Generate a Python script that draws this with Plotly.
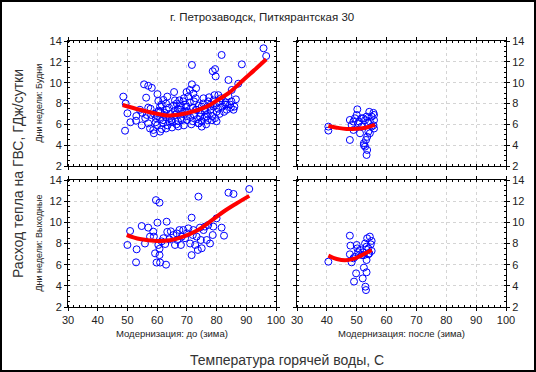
import plotly.graph_objects as go

# ---- data: top-left (до, будни)
tl_x = [48.6,49.2,50,49.4,52.9,54.2,54.8,55.6,56.3,57,58.2,56.5,57,57.6,57.8,58.7,58.9,59.6,60.1,60.4,60.4,61,61.5,62.1,62.3,63.2,63.4,64.3,64.9,65.7,66.6,66.6,67.1,67.7,68.3,68.8,69.4,69.9,69.9,70.5,71.1,71.7,71.7,72.2,72.4,73.1,73.3,73.9,74.4,75,75.6,76.1,76.7,77.2,77.8,78.4,78.7,79.5,79.7,79.3,80,80.6,81.1,81.7,82.9,83.4,84,84.5,85.1,85.7,87.3,88.5,95.8,96.7,84.8,80,
        59,59.5,60,60.5,61,61.5,62,62.5,63,63.5,64,64.5,65,65.5,66,66.5,67,67.5,68,68.5,69,69.5,70,70.5,71,71.5,72,72.5,73,73.5,74,74.5,75,75.5,76,76.5,77,77.5,78,78.5,79,79.5,80,80.5,81,81.5,82,82.5,83,83.5,84,85,86,86.5,62,64,66,68,70,72,74,76,78,60,58,57,56,55,53,51,69,71,73,75,77,79,66,63,61,67,65,63,61]
tl_y = [8.66,5.39,7.06,8.0,6.35,7.4,5.9,9.84,8.56,9.7,9.5,6.9,6.1,5.6,7.5,5.46,5.14,6.6,8.9,8.24,7.2,7.7,5.55,8.34,6.9,7.4,8.66,6.6,6.4,9.1,8.0,7.06,5.8,7.4,6.4,8.2,7.2,7.7,9.1,8.66,6.7,11.7,9.84,8.96,8.2,9.46,7.4,6.1,6.74,5.78,8.5,7.5,6.74,8.2,7.7,6.4,11.1,11.3,10.6,8.8,7.2,8.8,8.2,12.66,7.9,7.4,10.26,7.9,9.3,7.4,9.9,11.76,13.3,12.56,7.6,6.3,
        7.0,6.2,5.9,7.3,6.5,7.9,6.1,7.1,6.7,5.9,7.6,7.0,6.2,7.8,6.9,6.0,7.5,8.3,6.6,7.0,5.9,7.9,6.4,7.2,8.1,6.0,7.6,6.9,8.5,6.5,7.8,7.1,6.3,8.0,7.3,6.0,7.0,8.6,7.4,6.8,7.7,6.6,8.0,7.5,7.0,8.5,7.7,7.2,8.1,7.9,8.7,8.2,7.7,8.4,6.4,6.3,7.3,7.8,6.8,6.3,6.1,6.7,7.9,6.8,6.9,7.6,6.6,7.1,6.8,6.2,8.5,9.3,7.4,7.7,6.4,8.3,8.3,8.0,7.2,6.3,5.7,5.6,5.3]
tl_fit_x = [48.4,54.2,62.1,64.5,69.9,76.7,80,84.5,89,93.5,96.7]
tl_fit_y = [7.86,7.4,6.9,6.85,7.06,7.7,8.27,9.1,10.26,11.4,12.24]

# ---- top-right (после, будни)
tr_x = [40.5,40.5,50.2,47.7,48.3,47.7,48.9,49.4,50,50.5,51.1,51.6,52.2,52.4,52.8,53.3,53.5,53.1,53.9,54.2,54.4,55,55.6,55.8,55.8,55,53.3,52.8,51.6,50.8,54.4,55.6,53.5,52.4,48.9,53.9,55.8]
tr_y = [5.78,5.4,7.44,6.42,5.94,4.5,5.46,6.58,6.9,6.1,5.14,5.78,6.58,4.18,3.86,3.06,3.54,4.5,5.3,7.2,6.26,6.74,7.1,6.4,5.6,5.78,6.74,6.4,6.58,6.26,5.14,5.9,4.8,4.0,6.26,6.1,6.9]
tr_fit_x = [40.5,43.3,46.6,50,53.3,56.1]
tr_fit_y = [5.84,5.68,5.55,5.58,5.7,5.94]

# ---- bottom-left (до, выходные)
bl_x = [50,50.9,53.1,52.9,54.8,55.9,57,57.6,58.7,58.9,59.3,59.6,60.1,60.4,59.8,60.8,60.8,60.8,61,61.5,62.1,62.7,63,63.2,63.4,64.1,64.6,65.5,66,66.6,66.8,67.5,68,68.3,68.8,69.4,70,70.5,71.1,71.6,71.6,72,72.2,72.8,73.3,73.7,73.9,74.4,74.7,75,75.6,76.1,76.7,77.2,77.8,78.7,78.9,80,81.7,82.5,84,85.7,91]
bl_y = [7.86,9.18,7.45,6.22,9.65,8.0,9.5,8.65,9.12,8.65,7.07,12.1,9.97,7.86,6.2,11.86,7.5,6.9,6.2,8.2,8.5,7.95,6.0,10.06,9.1,8.4,9.15,8.8,7.86,8.95,8.33,9.27,7.86,8.65,9.27,8.5,8.96,9.43,8.0,10.44,6.9,8.8,9.27,7.86,8.65,7.39,12.43,9.5,8.33,7.55,9.27,9.6,8.33,9.75,8.0,8.8,9.6,10.38,9.5,8.74,12.8,12.68,13.15]
bl_fit_x = [49.75,54.2,59.9,64.3,68.8,73.3,77.8,82.3,86.8,91]
bl_fit_y = [8.8,8.42,8.24,8.3,8.65,9.2,10.06,11.0,11.8,12.5]

# ---- bottom-right (после, выходные)
br_x = [40.5,47.7,47.9,47.7,48.3,48.9,49.1,49.8,50,50.2,50.5,51.1,51.7,52,52.4,52.8,52.9,53.1,53.3,53.3,53.5,53.9,54.2,54.4,54.7,55,55,52.4,49.4,53.3,52.2,53.9]
br_y = [6.28,8.74,7.8,6.98,6.22,6.6,4.4,5.18,7.86,7.54,7.17,7.39,6.9,4.7,5.72,8.0,3.92,3.6,5.28,6.44,8.49,7.54,7.07,8.65,7.92,8.24,7.3,6.9,6.75,7.7,7.17,6.98]
br_fit_x = [40.5,43.3,46.1,48.9,51.7,55]
br_fit_y = [6.85,6.54,6.41,6.54,6.9,7.39]

x_ticks = [30,40,50,60,70,80,90,100]
y_ticks = [2,4,6,8,10,12,14]

title = "г. Петрозаводск, Питкярантская 30"
row_labels = ["Дни недели: Будни", "Дни недели: Выходные"]
col_labels = ["Модернизация: до (зима)", "Модернизация: после (зима)"]
x_title = "Температура горячей воды, С"
y_title = "Расход тепла на ГВС, ГДж/сутки"

# ---- layout geometry
W, H = 536, 372
ML, MR, MT, MB = 68, 30, 41, 65
PW, PH = W - ML - MR, H - MT - MB
FONT = "Liberation Sans Narrow, Liberation Sans, Arial, sans-serif"

def px(x):
    return (x - ML) / PW

def py(y):
    return (H - MB - y) / PH

xdom = [[0, px(276)], [px(297), 1]]
ydom = [[py(166), 1], [0, py(180)]]

fig = go.Figure()

panels = [
    (tl_x, tl_y, tl_fit_x, tl_fit_y, 0, 0),
    (tr_x, tr_y, tr_fit_x, tr_fit_y, 0, 1),
    (bl_x, bl_y, bl_fit_x, bl_fit_y, 1, 0),
    (br_x, br_y, br_fit_x, br_fit_y, 1, 1),
]

for i, (sx, sy, fx, fy, r, c) in enumerate(panels):
    n = i + 1
    xa = "x" if n == 1 else f"x{n}"
    ya = "y" if n == 1 else f"y{n}"
    fig.add_trace(go.Scatter(x=sx, y=sy, mode="markers", xaxis=xa, yaxis=ya,
                             marker=dict(symbol="circle-open", size=7, color="#0000ff",
                                         line=dict(width=1, color="#0000ff")),
                             showlegend=False, hoverinfo="skip"))
    fig.add_trace(go.Scatter(x=fx, y=fy, mode="lines", xaxis=xa, yaxis=ya,
                             line=dict(color="#ff0000", width=4, shape="spline"),
                             showlegend=False, hoverinfo="skip"))
    axcommon = dict(showline=True, linecolor="black", linewidth=1, mirror="allticks",
                    showgrid=True, gridcolor="#d4d4d4", griddash="dot", gridwidth=1,
                    zeroline=False, ticks="outside", ticklen=3, tickcolor="black",
                    tickfont=dict(family=FONT, size=11, color="#222"))
    xkey = "xaxis" if n == 1 else f"xaxis{n}"
    ykey = "yaxis" if n == 1 else f"yaxis{n}"
    fig.update_layout(**{
        xkey: dict(axcommon, domain=xdom[c], range=[30, 100], tickvals=x_ticks,
                   anchor=ya, showticklabels=(r == 1),
                   minor=dict(ticks="inside", ticklen=2, dtick=2, tickcolor="black", showgrid=False)),
        ykey: dict(axcommon, domain=ydom[r], range=[2, 14], tickvals=y_ticks,
                   anchor=xa, side=("left" if c == 0 else "right"),
                   minor=dict(ticks="inside", ticklen=2, dtick=0.5, tickcolor="black", showgrid=False)),
    })

def note(text, x, y, size, family=FONT, angle=0, color="#222"):
    return dict(text=text, x=x, y=y, xref="paper", yref="paper", showarrow=False,
                xanchor="center", yanchor="middle", textangle=angle,
                font=dict(family=family, size=size, color=color))

ann = [note(title, px(262), py(17), 11.5, "Liberation Sans, Arial")]
for r, lab in enumerate(row_labels):
    ann.append(note(lab, px(38), (ydom[r][0] + ydom[r][1]) / 2, 9, angle=-90))
for c, lab in enumerate(col_labels):
    ann.append(note(lab, (xdom[c][0] + xdom[c][1]) / 2, py(333), 9.5))
ann.append(note(x_title, 0.5, py(360), 14, "Liberation Sans, Arial", color="#333"))
ann.append(note(y_title, px(18), 0.5, 14, "Liberation Sans, Arial", angle=-90, color="#333"))

fig.update_layout(
    width=W, height=H,
    margin=dict(l=ML, r=MR, t=MT, b=MB),
    paper_bgcolor="white", plot_bgcolor="white",
    annotations=ann,
    shapes=[dict(type="rect", xref="paper", yref="paper",
                 x0=px(1), x1=px(535), y0=py(371), y1=py(1),
                 line=dict(color="black", width=2), layer="above")],
)

fig.write_html("out.html", config={"displayModeBar": False},
               post_script="document.body.style.margin='0';document.body.style.overflow='hidden';")
